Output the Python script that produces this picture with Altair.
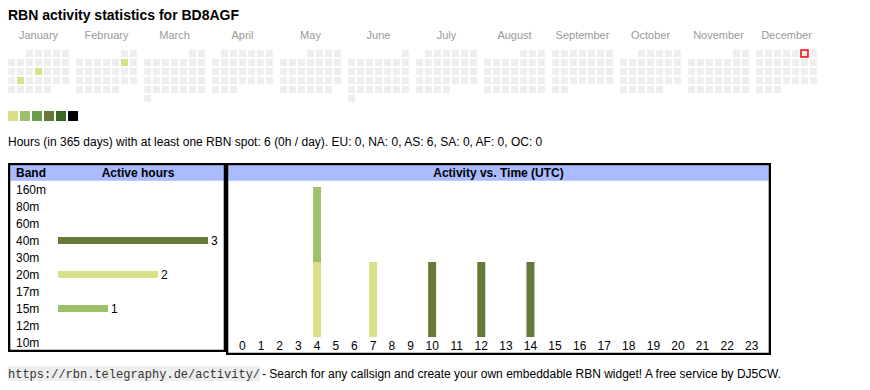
import altair as alt
import pandas as pd

# ---------------- data ----------------
YEAR = 2025
months = ["January", "February", "March", "April", "May", "June", "July",
          "August", "September", "October", "November", "December"]
active_days = ["2025-01-16", "2025-01-21", "2025-02-08"]
active_levels = [0, 0, 0]
today = "2025-12-06"
level_colors = ["#d9e08a", "#9dc16a", "#6a9e45", "#66793a", "#3b6a25", "#000000"]

bands = ["160m", "80m", "60m", "40m", "30m", "20m", "17m", "15m", "12m", "10m"]
band_hours = [0, 0, 0, 3, 0, 2, 0, 1, 0, 0]
band_color = {"40m": "#66793a", "20m": "#d9e08a", "15m": "#9dc16a"}

hours = list(range(24))
act_hour = [4, 4, 7, 10, 12, 14]
act_band = ["20m", "15m", "20m", "40m", "40m", "40m"]
act_count = [1, 1, 1, 1, 1, 1]

summary = ("Hours (in 365 days) with at least one RBN spot: 6 (0h / day). "
           "EU: 0, NA: 0, AS: 6, SA: 0, AF: 0, OC: 0")
url = "https://rbn.telegraphy.de/activity/"
footer = "- Search for any callsign and create your own embeddable RBN widget! A free service by DJ5CW."

FONT = "Liberation Sans"
SW = 2.3
HEAD = "#aabbff"
one = pd.DataFrame({"a": [0]})


def frame(w, h):
    return alt.Chart(one).mark_rect(fill=None, stroke="black", strokeWidth=SW).encode(
        x=alt.value(SW / 2), x2=alt.value(w - SW / 2), y=alt.value(SW / 2), y2=alt.value(h - SW / 2))


# ---------------- calendar ----------------
dates = pd.date_range(f"{YEAR}-01-01", f"{YEAR}-12-31", freq="D")
cal = pd.DataFrame({"date": dates})
cal["month"] = [months[d.month - 1] for d in dates]
cal["dow"] = [d.weekday() for d in dates]
first_wd = {m: pd.Timestamp(YEAR, i + 1, 1).weekday() for i, m in enumerate(months)}
cal["week"] = [(d.day - 1 + first_wd[months[d.month - 1]]) // 7 for d in dates]
lvl = dict(zip(active_days, active_levels))
cal["key"] = cal["date"].dt.strftime("%Y-%m-%d")
cal["fill"] = [level_colors[lvl[k]] if k in lvl else "#eeeeee" for k in cal["key"]]
cal["today"] = cal["key"] == today
cal = cal.drop(columns=["date"])

xs = alt.X("dow:O", axis=None, scale=alt.Scale(paddingInner=2 / 9, paddingOuter=0))
ys = alt.Y("week:O", axis=None, scale=alt.Scale(paddingInner=2 / 9, paddingOuter=0))
cells = alt.Chart().mark_rect().encode(x=xs, y=ys, color=alt.Color("fill:N", scale=None))
todaycell = alt.Chart().mark_rect(fill="#eeeeee", stroke="#ff0000", strokeWidth=1.5).encode(
    x=xs, y=ys).transform_filter("datum.today")
heat = alt.layer(cells, todaycell, data=cal).properties(width=61, height=52).facet(
    column=alt.Column("month:N", sort=months, title=None,
                      header=alt.Header(labelColor="#999999", labelFontSize=11, labelFont=FONT,
                                        labelPadding=8)),
    spacing=7,
)

# ---------------- legend squares + summary ----------------
leg = pd.DataFrame({"i": list(range(len(level_colors))), "c": level_colors})
squares = alt.Chart(leg).mark_rect().encode(
    x=alt.X("i:O", axis=None, scale=alt.Scale(range=[0, 70], paddingInner=2 / 12, paddingOuter=0)),
    y=alt.value(9), y2=alt.value(19),
    color=alt.Color("c:N", scale=None),
)
stext = alt.Chart(pd.DataFrame({"t": [summary]})).mark_text(
    align="left", baseline="middle", fontSize=12, font=FONT, color="black").encode(
    x=alt.value(0), y=alt.value(40), text="t:N")
mid = alt.layer(squares, stext).properties(width=760, height=61)

# ---------------- band chart ----------------
bdf = pd.DataFrame({"band": bands, "hours": band_hours})
bdf["col"] = [band_color.get(b, "#ffffff") for b in bands]
LW, LH = 218, 189
yb = alt.Y("band:N", sort=bands, axis=None, scale=alt.Scale(range=[18, 188], paddingInner=0, paddingOuter=0))
xb = alt.X("hours:Q", axis=None, scale=alt.Scale(domain=[0, 3], range=[50, 200], nice=False))
lhead = alt.Chart(one).mark_rect(color=HEAD).encode(
    x=alt.value(SW), x2=alt.value(LW - SW), y=alt.value(SW), y2=alt.value(17.7))
lt1 = alt.Chart(one).mark_text(text="Band", align="left", baseline="middle", fontWeight="bold",
                               fontSize=12, font=FONT, color="black").encode(x=alt.value(8), y=alt.value(10))
lt2 = alt.Chart(one).mark_text(text="Active hours", align="center", baseline="middle", fontWeight="bold",
                               fontSize=12, font=FONT, color="black").encode(x=alt.value(130), y=alt.value(10))
blabels = alt.Chart(bdf).mark_text(align="left", baseline="middle", fontSize=12, font=FONT,
                                   color="black").encode(x=alt.value(8), y=yb, text="band:N")
bars = alt.Chart(bdf).mark_bar(size=7).encode(
    x=xb, y=yb, color=alt.Color("col:N", scale=None)).transform_filter("datum.hours > 0")
bvals = alt.Chart(bdf).mark_text(align="left", baseline="middle", dx=3, fontSize=12, font=FONT,
                                 color="black").encode(x=xb, y=yb, text="hours:Q").transform_filter("datum.hours > 0")
left = alt.layer(lhead, lt1, lt2, blabels, bars, bvals, frame(LW, LH)).properties(width=LW, height=LH)

# ---------------- time chart ----------------
RW, RH = 545, 192
# table-like column widths: padding + digit width per label character
colw = [13 + 6 * len(str(h)) for h in hours]
centers = []
acc = 0
for w in colw:
    centers.append(acc + w / 2)
    acc += w
total = acc
hx = dict(zip(hours, centers))
hdf = pd.DataFrame({"hour": [str(h) for h in hours], "xc": centers})
adf = pd.DataFrame({"hour": act_hour, "band": act_band, "count": act_count})
adf["xc"] = [hx[h] for h in act_hour]
adf["ord"] = [bands.index(b) for b in act_band]
adf["col"] = [band_color[b] for b in act_band]
xt = alt.X("xc:Q", axis=None, scale=alt.Scale(domain=[0, total], range=[2, RW - 2], nice=False, zero=False))
rhead = alt.Chart(one).mark_rect(color=HEAD).encode(
    x=alt.value(SW), x2=alt.value(RW - SW), y=alt.value(SW), y2=alt.value(17.7))
rt = alt.Chart(one).mark_text(text="Activity vs. Time (UTC)", align="center", baseline="middle",
                              fontWeight="bold", fontSize=12, font=FONT, color="black").encode(
    x=alt.value(RW / 2), y=alt.value(10))
tbars = alt.Chart(adf).mark_bar(size=8).encode(
    x=xt,
    y=alt.Y("count:Q", stack="zero", axis=None,
            scale=alt.Scale(domain=[0, 2], range=[174, 24], nice=False)),
    color=alt.Color("col:N", scale=None),
    order=alt.Order("ord:Q", sort="ascending"),
)
hlabels = alt.Chart(hdf).mark_text(baseline="middle", fontSize=12, font=FONT, color="black").encode(
    x=xt, y=alt.value(183), text="hour:N")
right = alt.layer(rhead, rt, tbars, hlabels, frame(RW, RH)).properties(width=RW, height=RH)

boxes = alt.hconcat(left, right, spacing=0)

# ---------------- footer ----------------
fdf = pd.DataFrame({"u": [url], "f": [footer]})
ubg = alt.Chart(fdf).mark_rect(color="#eeeeee").encode(
    x=alt.value(0), x2=alt.value(252), y=alt.value(11), y2=alt.value(26))
utext = alt.Chart(fdf).mark_text(align="left", baseline="middle", fontSize=12, font="Liberation Mono",
                                 color="#333333").encode(x=alt.value(0), y=alt.value(19), text="u:N")
ftext = alt.Chart(fdf).mark_text(align="left", baseline="middle", fontSize=12, font=FONT,
                                 color="black").encode(x=alt.value(254), y=alt.value(19), text="f:N")
foot = alt.layer(ubg, utext, ftext).properties(width=780, height=28)

chart = alt.vconcat(heat, mid, boxes, foot, spacing=0).properties(
    title=alt.TitleParams("RBN activity statistics for BD8AGF", anchor="start", fontSize=14,
                          font=FONT, fontWeight="bold", color="black", offset=7),
    padding={"top": 1, "left": 0, "right": 0, "bottom": 0},
).configure_view(stroke=None).configure_concat(spacing=0)

chart.save("out.html", embed_options={"renderer": "svg", "actions": False})
